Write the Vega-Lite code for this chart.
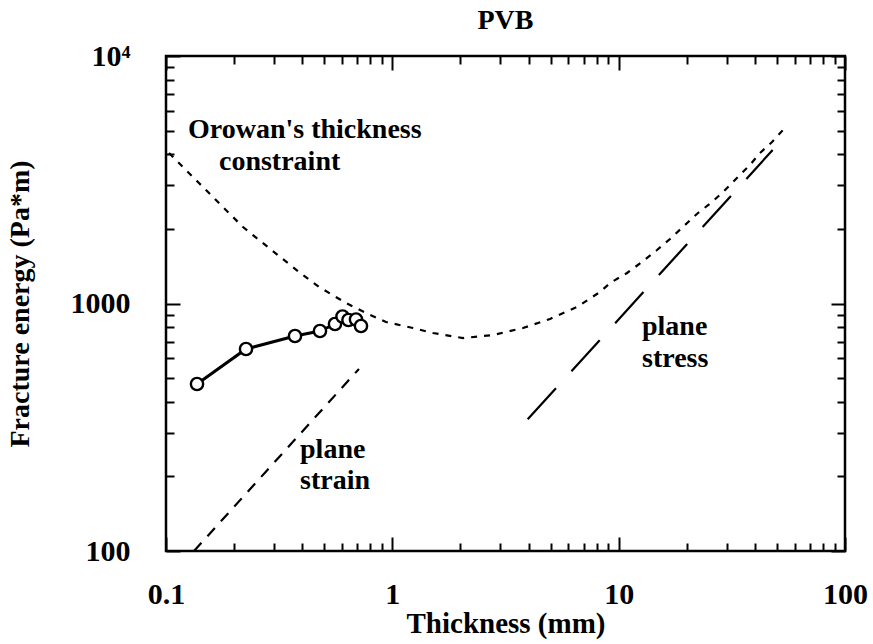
{
  "$schema": "https://vega.github.io/schema/vega-lite/v6.json",
  "width": 679,
  "height": 495,
  "autosize": "none",
  "padding": {"left": 166, "top": 56, "right": 28, "bottom": 93},
  "background": "white",
  "config": {
    "view": {"stroke": "black", "strokeWidth": 2.5},
    "font": "Liberation Serif",
    "axis": {"grid": false, "domain": false}
  },
  "title": {
    "text": "PVB",
    "font": "Liberation Serif",
    "fontSize": 28,
    "fontWeight": "bold",
    "color": "black",
    "offset": 6,
    "anchor": "middle"
  },
  "datasets": {
    "orowan": [
      {"t": 0.1031, "G": 4055},
      {"t": 0.1126, "G": 3741},
      {"t": 0.1398, "G": 3069},
      {"t": 0.1714, "G": 2547},
      {"t": 0.2189, "G": 2037},
      {"t": 0.2852, "G": 1676},
      {"t": 0.3869, "G": 1341},
      {"t": 0.4743, "G": 1166},
      {"t": 0.6242, "G": 1005},
      {"t": 0.765, "G": 915},
      {"t": 0.9377, "G": 842},
      {"t": 1.234, "G": 796},
      {"t": 1.513, "G": 760},
      {"t": 2.052, "G": 725},
      {"t": 2.785, "G": 746},
      {"t": 3.779, "G": 796},
      {"t": 4.973, "G": 866},
      {"t": 6.545, "G": 968},
      {"t": 8.27, "G": 1113},
      {"t": 9.16, "G": 1210},
      {"t": 10.89, "G": 1328},
      {"t": 12.68, "G": 1472},
      {"t": 14.77, "G": 1645},
      {"t": 16.86, "G": 1822},
      {"t": 19.64, "G": 2076},
      {"t": 22.41, "G": 2321},
      {"t": 25.85, "G": 2571},
      {"t": 28.9, "G": 2821},
      {"t": 33.3, "G": 3214},
      {"t": 38.0, "G": 3627},
      {"t": 42.1, "G": 4055},
      {"t": 47.6, "G": 4493},
      {"t": 53.2, "G": 5023}
    ],
    "strain": [
      {"t": 0.133, "G": 100},
      {"t": 0.712, "G": 544}
    ],
    "stress": [
      {"t": 3.963, "G": 340.5},
      {"t": 47.9, "G": 4170}
    ],
    "pvb": [
      {"t": 0.1371, "G": 473},
      {"t": 0.2257, "G": 655},
      {"t": 0.3715, "G": 739},
      {"t": 0.479, "G": 774},
      {"t": 0.558, "G": 826},
      {"t": 0.6023, "G": 886},
      {"t": 0.640, "G": 858},
      {"t": 0.691, "G": 862},
      {"t": 0.727, "G": 811}
    ],
    "notes": [
      {"t": 0.1251, "G": 4664, "label": "Orowan's thickness"},
      {"t": 0.1714, "G": 3463, "label": "constraint"},
      {"t": 0.391, "G": 237.6, "label": "plane"},
      {"t": 0.391, "G": 178, "label": "strain"},
      {"t": 12.68, "G": 746, "label": "plane"},
      {"t": 12.68, "G": 553, "label": "stress"}
    ]
  },
  "resolve": {"axis": {"x": "independent", "y": "independent"}},
  "layer": [
    {
      "data": {"name": "orowan"},
      "mark": {"type": "line", "color": "black", "strokeWidth": 2.2, "strokeDash": [6, 7]},
      "encoding": {
        "x": {
          "field": "t", "type": "quantitative",
          "scale": {"type": "log", "domain": [0.1, 100], "nice": false},
          "axis": {
            "orient": "bottom",
            "title": "Thickness (mm)",
            "values": [0.1,0.2,0.3,0.4,0.5,0.6,0.7,0.8,0.9,1,2,3,4,5,6,7,8,9,10,20,30,40,50,60,70,80,90,100],
            "labelExpr": "datum.value==0.1?'0.1':datum.value==1?'1':datum.value==10?'10':datum.value==100?'100':''",
            "labelOverlap": false, "labelFlush": false, "labelBound": false,
            "labelFont": "Liberation Serif", "labelFontSize": 30, "labelFontWeight": "bold", "labelColor": "black",
            "labelPadding": 42,
            "tickColor": "black", "tickWidth": 2,
            "tickSize": {"condition": {"test": "datum.value==0.1||datum.value==1||datum.value==10||datum.value==100", "value": -14}, "value": -8},
            "titleFont": "Liberation Serif", "titleFontSize": 29, "titleFontWeight": "bold", "titleColor": "black",
            "titlePadding": -6
          }
        },
        "y": {
          "field": "G", "type": "quantitative",
          "scale": {"type": "log", "domain": [100, 10000], "nice": false},
          "axis": {
            "orient": "left",
            "title": "Fracture energy (Pa*m)",
            "values": [100,200,300,400,500,600,700,800,900,1000,2000,3000,4000,5000,6000,7000,8000,9000,10000],
            "labelExpr": "datum.value==100?'100':datum.value==1000?'1000':datum.value==10000?'10⁴':''",
            "labelOverlap": false, "labelFlush": false, "labelBound": false,
            "labelFont": "Liberation Serif", "labelFontSize": 30, "labelFontWeight": "bold", "labelColor": "black",
            "labelPadding": 50,
            "tickColor": "black", "tickWidth": 2,
            "tickSize": {"condition": {"test": "datum.value==100||datum.value==1000||datum.value==10000", "value": -14}, "value": -8},
            "titleFont": "Liberation Serif", "titleFontSize": 28, "titleFontWeight": "bold", "titleColor": "black",
            "titlePadding": 36
          }
        }
      }
    },
    {
      "data": {"name": "strain"},
      "mark": {"type": "line", "color": "black", "strokeWidth": 2.2, "strokeDash": [11, 9]},
      "encoding": {
        "x": {
          "field": "t", "type": "quantitative",
          "scale": {"type": "log", "domain": [0.1, 100], "nice": false},
          "axis": {
            "orient": "top", "title": null, "labels": false,
            "values": [0.1,0.2,0.3,0.4,0.5,0.6,0.7,0.8,0.9,1,2,3,4,5,6,7,8,9,10,20,30,40,50,60,70,80,90,100],
            "tickColor": "black", "tickWidth": 2,
            "tickSize": {"condition": {"test": "datum.value==0.1||datum.value==1||datum.value==10||datum.value==100", "value": -14}, "value": -8}
          }
        },
        "y": {
          "field": "G", "type": "quantitative",
          "scale": {"type": "log", "domain": [100, 10000], "nice": false},
          "axis": {
            "orient": "right", "title": null, "labels": false,
            "values": [100,200,300,400,500,600,700,800,900,1000,2000,3000,4000,5000,6000,7000,8000,9000,10000],
            "tickColor": "black", "tickWidth": 2,
            "tickSize": {"condition": {"test": "datum.value==100||datum.value==1000||datum.value==10000", "value": -14}, "value": -8}
          }
        }
      }
    },
    {
      "data": {"name": "stress"},
      "mark": {"type": "line", "color": "black", "strokeWidth": 2.2, "strokeDash": [42, 23]},
      "encoding": {
        "x": {"field": "t", "type": "quantitative", "scale": {"type": "log", "domain": [0.1, 100], "nice": false}, "axis": null},
        "y": {"field": "G", "type": "quantitative", "scale": {"type": "log", "domain": [100, 10000], "nice": false}, "axis": null}
      }
    },
    {
      "data": {"name": "pvb"},
      "mark": {"type": "line", "color": "black", "strokeWidth": 3},
      "encoding": {
        "x": {"field": "t", "type": "quantitative", "scale": {"type": "log", "domain": [0.1, 100], "nice": false}, "axis": null},
        "y": {"field": "G", "type": "quantitative", "scale": {"type": "log", "domain": [100, 10000], "nice": false}, "axis": null}
      }
    },
    {
      "data": {"name": "pvb"},
      "mark": {"type": "point", "shape": "circle", "filled": false, "fill": "white", "fillOpacity": 1, "stroke": "black", "strokeWidth": 2.4, "size": 150, "opacity": 1},
      "encoding": {
        "x": {"field": "t", "type": "quantitative", "scale": {"type": "log", "domain": [0.1, 100], "nice": false}, "axis": null},
        "y": {"field": "G", "type": "quantitative", "scale": {"type": "log", "domain": [100, 10000], "nice": false}, "axis": null}
      }
    },
    {
      "data": {"name": "notes"},
      "mark": {"type": "text", "align": "left", "baseline": "alphabetic", "font": "Liberation Serif", "fontSize": 28, "fontWeight": "bold", "color": "black"},
      "encoding": {
        "x": {"field": "t", "type": "quantitative", "scale": {"type": "log", "domain": [0.1, 100], "nice": false}, "axis": null},
        "y": {"field": "G", "type": "quantitative", "scale": {"type": "log", "domain": [100, 10000], "nice": false}, "axis": null},
        "text": {"field": "label"}
      }
    }
  ]
}
